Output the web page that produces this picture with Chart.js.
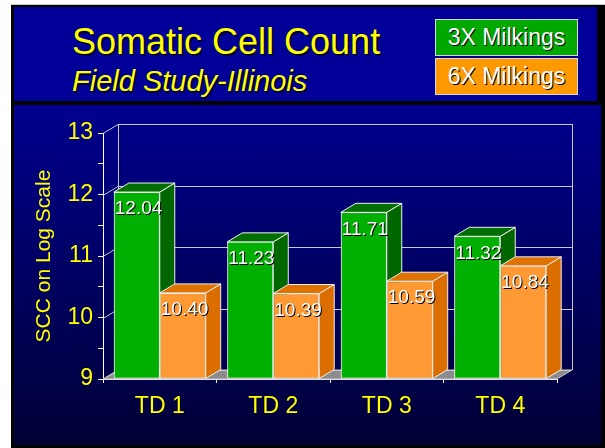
<!DOCTYPE html>
<html>
<head>
<meta charset="utf-8">
<script src="https://cdn.jsdelivr.net/npm/chart.js@4/dist/chart.umd.min.js"></script>
<style>
  body { margin: 0; background: #fff; font-family: "Liberation Sans", Arial, sans-serif; }
  #frame { position: absolute; left: 11px; top: 4px; width: 594px; height: 444px; background: #000; border-top: 1px solid #c8c8c8; box-sizing: border-box; }
  #head { position: absolute; left: 14px; top: 7px; width: 583px; height: 94px; background: #000099; }
  #panel { position: absolute; left: 14px; top: 105px; width: 587px; height: 340px; background: linear-gradient(#00008e, #000036); }
  .title { position: absolute; left: 72px; color: #ffff00; text-shadow: 2px 2px 0 #000033; white-space: nowrap; }
  #t1 { top: 24px; font-size: 36px; line-height: 36px; }
  #t2 { top: 67px; font-size: 29px; line-height: 29px; font-style: italic; }
  .key { position: absolute; left: 435px; width: 143px; height: 37px; box-sizing: border-box; border: 1px solid #d8d8d8;
         color: #fff; font-size: 23px; line-height: 35px; text-align: center; text-shadow: 1px 1px 0 #000; }
  canvas { position: absolute; left: 0; top: 0; }
</style>
</head>
<body>
<div id="frame"></div>
<div id="head"></div>
<div id="panel"></div>
<div class="title" id="t1">Somatic Cell Count</div>
<div class="title" id="t2">Field Study-Illinois</div>
<div class="key" id="k1" style="top:19px; background:#00a800;">3X Milkings</div>
<div class="key" id="k2" style="top:58px; background:#ff9900;">6X Milkings</div>
<canvas id="chart" width="605" height="448"></canvas>
<script>
const categories = ["TD 1", "TD 2", "TD 3", "TD 4"];
const milk3x = [12.04, 11.23, 11.71, 11.32];
const milk6x = [10.40, 10.39, 10.59, 10.84];
const seriesNames = ["3X Milkings", "6X Milkings"];
const yMin = 9;
const yMax = 13;

// depth of the fake 3d look
const DX = 15;
const DY = 9;
const faces = [
  { front: "#00b000", side: "#006600", top: "#006e00" },
  { front: "#ff9933", side: "#dc6e00", top: "#e07200" }
];

function poly(ctx, pts, fill) {
  ctx.beginPath();
  ctx.moveTo(pts[0][0], pts[0][1]);
  for (let i = 1; i < pts.length; i++) ctx.lineTo(pts[i][0], pts[i][1]);
  ctx.closePath();
  if (fill) { ctx.fillStyle = fill; ctx.fill(); }
  ctx.stroke();
}

const box3d = {
  id: "box3d",
  beforeDatasetsDraw(chart) {
    const ctx = chart.ctx;
    const { left, right, top, bottom } = chart.chartArea;
    const y = chart.scales.y;
    ctx.save();
    ctx.lineWidth = 1;
    ctx.strokeStyle = "#c8c8c8";
    // floor
    poly(ctx, [[left, bottom], [right, bottom], [right + DX, bottom - DY], [left + DX, bottom - DY]], "#8c8c8c");
    // back wall grid + left wall diagonals
    for (let v = yMin; v <= yMax; v++) {
      const p = Math.round(y.getPixelForValue(v)) + 0.5;
      ctx.beginPath();
      ctx.moveTo(left + DX, p - DY);
      ctx.lineTo(right + DX, p - DY);
      ctx.moveTo(left, p);
      ctx.lineTo(left + DX, p - DY);
      ctx.stroke();
    }
    ctx.beginPath();
    ctx.moveTo(left + DX + 0.5, top - DY);
    ctx.lineTo(left + DX + 0.5, bottom - DY);
    ctx.moveTo(right + DX + 0.5, top - DY);
    ctx.lineTo(right + DX + 0.5, bottom - DY);
    ctx.stroke();
    ctx.restore();
  },
  afterDatasetsDraw(chart) {
    const ctx = chart.ctx;
    const metas = [chart.getDatasetMeta(0), chart.getDatasetMeta(1)];
    ctx.save();
    ctx.lineWidth = 1;
    ctx.strokeStyle = "#f0f0f0";
    for (let i = 0; i < categories.length; i++) {
      metas.forEach((meta, d) => {
        const bar = meta.data[i];
        const l = bar.x - bar.width / 2, r = bar.x + bar.width / 2;
        const t = bar.y, b = bar.base;
        poly(ctx, [[r, t], [r + DX, t - DY], [r + DX, b - DY], [r, b]], faces[d].side);
        poly(ctx, [[l, t], [r, t], [r + DX, t - DY], [l + DX, t - DY]], faces[d].top);
        bar.draw(ctx);
      });
    }
    // value labels
    ctx.font = "19px 'Liberation Sans'";
    ctx.textAlign = "left";
    ctx.textBaseline = "middle";
    metas.forEach((meta, d) => {
      const vals = d === 0 ? milk3x : milk6x;
      meta.data.forEach((bar, i) => {
        const tx = bar.x - bar.width / 2 + 1;
        const ty = bar.y + 17;
        const s = vals[i].toFixed(2);
        ctx.fillStyle = "#000000";
        ctx.fillText(s, tx + 1, ty + 1);
        ctx.fillStyle = "#ffffff";
        ctx.fillText(s, tx, ty);
      });
    });
    ctx.restore();
  }
};

new Chart(document.getElementById("chart"), {
  type: "bar",
  data: {
    labels: categories,
    datasets: [
      { label: seriesNames[0], data: milk3x, base: yMin, backgroundColor: faces[0].front, borderColor: "#f0f0f0", borderWidth: 1, borderSkipped: false },
      { label: seriesNames[1], data: milk6x, base: yMin, backgroundColor: faces[1].front, borderColor: "#f0f0f0", borderWidth: 1, borderSkipped: false }
    ]
  },
  options: {
    responsive: false,
    animation: false,
    devicePixelRatio: 1,
    categoryPercentage: 0.81,
    barPercentage: 1.0,
    layout: { padding: { left: 14, top: 133, right: 48, bottom: 29 } },
    plugins: { legend: { display: false }, tooltip: { enabled: false } },
    scales: {
      x: {
        afterFit(scale) { scale.height = 40; },
        grid: { offset: true, drawOnChartArea: false, tickLength: 4, color: "#ffffff" },
        border: { color: "#ffffff" },
        ticks: { color: "#ffff00", font: { family: "'Liberation Sans'", size: 23 }, padding: 10 }
      },
      y: {
        min: yMin,
        max: yMax,
        afterFit(scale) { scale.width = 89; },
        grid: { drawOnChartArea: false, tickLength: 5, color: "#ffffff" },
        border: { color: "#ffffff" },
        ticks: {
          stepSize: 0.5,
          color: "#ffff00",
          font: { family: "'Liberation Sans'", size: 23 },
          padding: 5,
          callback: (v) => (v % 1 === 0 ? v : "")
        },
        title: {
          display: true,
          text: "SCC on Log Scale",
          color: "#ffff00",
          font: { family: "'Liberation Sans'", size: 21 },
          padding: { top: 18, bottom: 0 }
        }
      }
    }
  },
  plugins: [box3d]
});
</script>
</body>
</html>
